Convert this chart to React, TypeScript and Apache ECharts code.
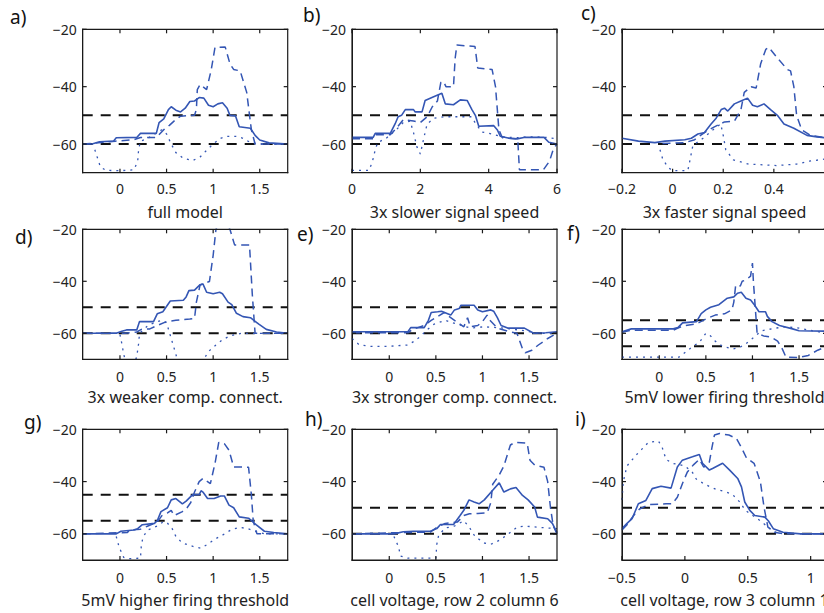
import React, { useEffect, useRef } from "react";
import * as echarts from "echarts";

// ---------- data (x, membrane voltage in mV) ----------
const aSolid = [[-0.4,-60],[-0.3,-60],[-0.22,-59.2],[-0.07,-59],[-0.04,-57.8],[0.18,-57.7],[0.22,-56.3],[0.39,-56.3],[0.42,-52.5],[0.47,-51.2],[0.52,-48],[0.55,-47],[0.6,-48.2],[0.65,-48.8],[0.7,-47.5],[0.75,-45.2],[0.8,-45],[0.85,-43.8],[0.9,-44],[0.95,-46.5],[1.0,-47],[1.05,-46],[1.1,-45.6],[1.15,-47.5],[1.18,-50],[1.24,-50.2],[1.28,-54],[1.4,-54.5],[1.45,-57],[1.5,-58.6],[1.6,-59.6],[1.8,-60]];
const aDashed = [[-0.4,-60],[-0.2,-59.5],[-0.05,-59],[0.15,-58.5],[0.22,-57.7],[0.39,-57.7],[0.47,-55],[0.53,-53.5],[0.58,-52],[0.65,-50.3],[0.8,-50],[0.82,-48],[0.83,-41],[0.86,-39.3],[0.93,-41],[0.98,-34],[1.02,-26.3],[1.13,-26.2],[1.18,-32],[1.22,-34],[1.29,-34.5],[1.36,-42],[1.41,-55],[1.45,-60],[1.8,-60]];
const aDotted = [[-0.27,-62],[-0.24,-65],[-0.21,-68],[-0.15,-69.2],[0.0,-69.3],[0.15,-69],[0.19,-66],[0.2,-62],[0.22,-59],[0.3,-58],[0.4,-56],[0.45,-55],[0.5,-56.5],[0.55,-60],[0.6,-63],[0.68,-65],[0.78,-65.8],[0.86,-64.5],[0.92,-62.5],[1.0,-60],[1.08,-58],[1.15,-57.3],[1.25,-57.3],[1.32,-58],[1.4,-59.5],[1.5,-60],[1.8,-60]];

const bSolid = [[0,-57.7],[0.62,-57.7],[0.68,-56.3],[1.12,-56.3],[1.26,-53],[1.35,-50.5],[1.45,-50],[1.56,-48],[1.8,-48],[1.85,-48.8],[2.05,-48.8],[2.14,-44.8],[2.39,-43.5],[2.63,-42.3],[2.73,-46],[2.97,-46.3],[3.17,-44.6],[3.37,-44.8],[3.51,-48],[3.61,-50],[3.71,-53.8],[4.15,-53.6],[4.25,-55],[4.34,-57.3],[4.6,-58],[4.83,-58.2],[5.03,-57.7],[5.62,-57.7],[5.76,-59.4],[6,-60]];
const bDashed = [[0,-58.2],[0.62,-58.2],[0.7,-56.8],[1.12,-56.8],[1.3,-54.5],[1.5,-51.5],[1.8,-52],[2.0,-52.5],[2.2,-50.5],[2.35,-47],[2.5,-45],[2.6,-38.5],[2.68,-38.2],[2.75,-40],[2.97,-40],[3.02,-30],[3.07,-25.5],[3.6,-26],[3.68,-33.5],[4.1,-34],[4.2,-40],[4.3,-55],[4.4,-57.8],[4.85,-58.2],[4.9,-69],[5.6,-69],[5.78,-66],[5.9,-61.5],[6,-60]];
const bDotted = [[0,-69.2],[0.5,-69.2],[0.6,-66],[0.68,-62],[0.75,-59.5],[1.0,-58],[1.3,-55],[1.5,-52.5],[1.7,-52],[1.8,-56],[1.9,-61],[2.0,-63.5],[2.1,-58],[2.2,-53],[2.4,-51],[2.7,-50.5],[3.0,-50.5],[3.5,-50.5],[3.6,-52.5],[3.8,-55.8],[4.1,-56.5],[4.4,-57.5],[4.8,-57.8],[5.2,-57.5],[5.6,-57.6],[5.9,-58],[6,-58.5]];

const cSolid = [[-0.2,-58],[-0.135,-59],[-0.07,-59.5],[-0.03,-59],[0.048,-58.5],[0.074,-58],[0.1,-56.5],[0.126,-56],[0.152,-53],[0.172,-51],[0.192,-48],[0.205,-47.5],[0.218,-48.5],[0.244,-46],[0.27,-45],[0.296,-44],[0.316,-46.5],[0.335,-47],[0.361,-46],[0.387,-48],[0.414,-50],[0.44,-53],[0.479,-54.5],[0.531,-57],[0.57,-57.5],[0.62,-58]];
const cDashed = [[-0.04,-59.8],[0.05,-59.5],[0.087,-58.5],[0.126,-56],[0.165,-54],[0.205,-52.3],[0.244,-52],[0.27,-48],[0.283,-42],[0.31,-40],[0.33,-40.5],[0.348,-32],[0.368,-27],[0.38,-26.3],[0.414,-30],[0.453,-34],[0.466,-34.5],[0.479,-40],[0.49,-50],[0.51,-55],[0.544,-57],[0.62,-58]];
const cDotted = [[-0.05,-62],[-0.04,-65],[-0.02,-68],[0.0,-69.3],[0.06,-69.3],[0.07,-65],[0.08,-60.5],[0.12,-58],[0.16,-55],[0.19,-53],[0.2,-57],[0.21,-62],[0.24,-65.5],[0.3,-67],[0.41,-67.5],[0.49,-67],[0.54,-66],[0.62,-65]];

const dSolid = [[-0.4,-60],[-0.04,-60],[0.02,-59.2],[0.07,-58.7],[0.18,-58.7],[0.21,-55.5],[0.36,-55.5],[0.4,-52.5],[0.46,-51.7],[0.54,-47.6],[0.68,-47.3],[0.71,-46],[0.74,-43.6],[0.8,-43.4],[0.86,-41.3],[0.89,-41],[0.93,-44.2],[1.0,-44.8],[1.07,-44.2],[1.1,-44.8],[1.16,-48],[1.2,-49],[1.25,-52.3],[1.32,-53.6],[1.4,-54],[1.49,-56.5],[1.57,-58.5],[1.68,-59.5],[1.8,-60]];
const dDashed = [[-0.4,-60],[0.05,-60],[0.18,-59.5],[0.23,-58.5],[0.32,-58.3],[0.4,-57],[0.5,-55.5],[0.6,-55],[0.75,-54.5],[0.8,-54.3],[0.82,-48],[0.86,-41.4],[0.96,-40.1],[1.0,-30],[1.03,-20],[1.08,-16],[1.14,-17],[1.18,-20],[1.23,-26],[1.39,-26],[1.42,-45],[1.45,-60],[1.8,-60]];
const dDotted = [[0.0,-60.5],[0.02,-64],[0.04,-68],[0.06,-71],[0.15,-72],[0.18,-69],[0.2,-64],[0.21,-60],[0.3,-57],[0.4,-55.5],[0.45,-55],[0.5,-56],[0.55,-62],[0.6,-68],[0.62,-71],[0.85,-73],[0.9,-70],[0.95,-67],[1.03,-64.5],[1.1,-62.5],[1.18,-61],[1.3,-60],[1.8,-60]];

const eSolid = [[-0.4,-59.4],[0.2,-59.4],[0.23,-57.8],[0.375,-57.8],[0.42,-55],[0.45,-52],[0.52,-51.7],[0.56,-51.5],[0.66,-53],[0.7,-51],[0.75,-50.5],[0.77,-49.2],[0.91,-49.2],[0.95,-51],[1.0,-51.7],[1.09,-51],[1.12,-51.5],[1.16,-54],[1.2,-57],[1.27,-58],[1.45,-58],[1.55,-60],[1.68,-59.8],[1.8,-59.4]];
const eDashed = [[-0.4,-59.8],[0.2,-59.8],[0.25,-58.5],[0.375,-57],[0.45,-55],[0.52,-53.5],[0.59,-52],[0.64,-53.5],[0.7,-55],[0.8,-57.5],[0.84,-54],[0.87,-57.5],[0.95,-57],[1.0,-55.5],[1.05,-53],[1.08,-55],[1.16,-58],[1.3,-59.5],[1.37,-60],[1.43,-66],[1.46,-67.5],[1.53,-66.5],[1.6,-64.5],[1.7,-62],[1.8,-60]];
const eDotted = [[-0.4,-62],[-0.32,-64.5],[-0.2,-65],[0.0,-65],[0.2,-64.5],[0.27,-63],[0.34,-61],[0.41,-58.5],[0.48,-56.5],[0.6,-55],[0.73,-56.5],[0.87,-58],[1.02,-57.5],[1.23,-58],[1.45,-59],[1.6,-60],[1.8,-60]];

const fSolid = [[-0.4,-59.4],[-0.3,-58.3],[0.15,-58.3],[0.2,-57.8],[0.25,-56],[0.4,-55.5],[0.45,-52.4],[0.5,-51],[0.55,-50],[0.64,-49],[0.73,-46.5],[0.8,-46],[0.84,-44.6],[0.88,-44.2],[0.93,-46.5],[0.98,-47.2],[1.02,-49],[1.07,-51.7],[1.14,-51.7],[1.16,-53.5],[1.21,-55.5],[1.29,-57],[1.43,-58.3],[1.5,-59],[1.8,-59.2]];
const fDashed = [[-0.4,-59.6],[-0.3,-58.8],[0.15,-58.8],[0.2,-58],[0.25,-57.2],[0.38,-56.5],[0.43,-55.8],[0.5,-54.5],[0.6,-53],[0.7,-52.5],[0.78,-51],[0.8,-48],[0.82,-41.5],[0.87,-41.8],[0.89,-40],[0.93,-39.5],[0.98,-38],[1.0,-33],[1.01,-40],[1.03,-50],[1.05,-60],[1.12,-61],[1.2,-61.5],[1.27,-63],[1.32,-66],[1.36,-69.2],[1.5,-69.3],[1.6,-68.5],[1.7,-66.5],[1.8,-65]];
const fDotted = [[-0.4,-69.2],[0.21,-69.2],[0.29,-67],[0.36,-65],[0.43,-63.5],[0.46,-62],[0.5,-60],[0.55,-61],[0.6,-63],[0.68,-65],[0.79,-66],[0.86,-65.5],[0.93,-64],[1.0,-62],[1.1,-59],[1.25,-58],[1.36,-57.5],[1.5,-58],[1.64,-59],[1.8,-60]];

const gSolid = [[-0.4,-60],[-0.04,-60],[0.01,-59],[0.15,-58.5],[0.19,-58],[0.24,-56.5],[0.37,-56],[0.4,-55],[0.44,-51.5],[0.51,-50],[0.55,-47],[0.6,-46.5],[0.67,-48.5],[0.71,-47.5],[0.78,-45],[0.85,-45],[0.87,-43.5],[0.89,-44],[0.94,-46.5],[1.01,-46.5],[1.08,-45.5],[1.12,-45.5],[1.17,-49],[1.22,-50],[1.28,-53.5],[1.38,-54],[1.46,-56.5],[1.55,-59],[1.65,-59.5],[1.8,-60]];
const gDashed = [[-0.4,-60],[0.08,-59.5],[0.1,-58.5],[0.22,-58.2],[0.3,-57],[0.37,-56],[0.4,-55.5],[0.45,-53],[0.51,-52],[0.55,-51],[0.58,-53],[0.67,-51.5],[0.72,-50],[0.76,-48],[0.8,-44],[0.85,-40],[0.89,-38.8],[0.97,-40.8],[1.02,-33],[1.06,-25],[1.12,-25.5],[1.17,-28],[1.22,-34.4],[1.38,-34.5],[1.41,-45],[1.43,-55],[1.47,-60],[1.8,-60]];
const gDotted = [[-0.04,-61],[-0.01,-65],[0.04,-69],[0.1,-69.5],[0.22,-69.3],[0.23,-64],[0.25,-61],[0.3,-58.5],[0.4,-57],[0.46,-55.5],[0.5,-55.5],[0.56,-58],[0.6,-61],[0.67,-63.5],[0.8,-65],[0.87,-65.5],[0.94,-64],[1.02,-62],[1.1,-60.5],[1.19,-58.5],[1.28,-57.5],[1.37,-58],[1.45,-59],[1.55,-60],[1.8,-60]];

const hSolid = [[-0.4,-60],[0.05,-60],[0.15,-59.2],[0.26,-59],[0.44,-59],[0.51,-58],[0.55,-56.4],[0.69,-56.4],[0.76,-53],[0.8,-51],[0.856,-47],[0.91,-47.8],[0.964,-48.5],[1.02,-47],[1.11,-43.3],[1.18,-40.5],[1.23,-44],[1.3,-42.8],[1.36,-42.3],[1.43,-45.3],[1.49,-47],[1.56,-49.7],[1.59,-53.6],[1.7,-54.2],[1.75,-56],[1.8,-59.5]];
const hDashed = [[-0.4,-60],[0.15,-59.5],[0.44,-59.3],[0.51,-57.5],[0.6,-56],[0.73,-55.5],[0.8,-53],[0.86,-52.3],[0.95,-52.2],[1.05,-52],[1.09,-48],[1.11,-41],[1.18,-37.5],[1.23,-34],[1.3,-26],[1.35,-25],[1.48,-25.3],[1.51,-31.8],[1.56,-33.7],[1.66,-34.5],[1.7,-40],[1.73,-50],[1.76,-57],[1.8,-60]];
const hDotted = [[0.05,-61],[0.1,-65],[0.12,-68.5],[0.2,-69.3],[0.5,-69.3],[0.51,-64],[0.53,-60.5],[0.6,-57.8],[0.7,-57],[0.8,-55],[0.86,-57.5],[0.92,-61],[1.02,-63.5],[1.09,-64],[1.18,-62.5],[1.28,-60],[1.37,-57.5],[1.45,-57],[1.6,-57.5],[1.8,-58]];

const iSolid = [[-0.5,-58],[-0.46,-56],[-0.42,-54.2],[-0.37,-48.5],[-0.31,-47.2],[-0.26,-42.7],[-0.19,-41.8],[-0.11,-42.5],[-0.06,-34.4],[-0.02,-31.8],[0.06,-30.5],[0.115,-29.6],[0.14,-33],[0.195,-35.6],[0.22,-35],[0.3,-33],[0.356,-35.6],[0.42,-38.8],[0.45,-42],[0.476,-47.8],[0.516,-51],[0.556,-53],[0.636,-53.6],[0.663,-55],[0.703,-58],[0.78,-59.4],[0.92,-60],[1.13,-60]];
const iDashed = [[-0.5,-58.5],[-0.46,-56.5],[-0.4,-52.5],[-0.36,-50.5],[-0.29,-48.8],[-0.15,-48.5],[-0.1,-48.5],[-0.06,-46],[-0.02,-40.8],[0.02,-36.3],[0.07,-33.5],[0.115,-31.5],[0.15,-34.5],[0.195,-32.5],[0.215,-27],[0.235,-22.2],[0.275,-21.6],[0.35,-22.2],[0.41,-23.5],[0.45,-27],[0.49,-31],[0.55,-33],[0.6,-40],[0.63,-50],[0.66,-57.4],[0.72,-59.5],[0.8,-60],[1.13,-60]];
const iDotted = [[-0.5,-47],[-0.49,-40],[-0.46,-34],[-0.39,-30],[-0.34,-27.5],[-0.29,-25],[-0.21,-24.5],[-0.18,-27],[-0.15,-31.5],[-0.1,-33],[0.0,-34],[0.06,-36.5],[0.09,-39],[0.14,-40.5],[0.2,-42],[0.25,-43],[0.33,-44],[0.38,-45],[0.44,-48],[0.48,-51],[0.54,-53],[0.6,-55],[0.65,-57],[0.7,-59],[0.76,-60]];

// thresholds (mV) per panel
const thrA = [-50, -60];
const thrB = [-50, -60];
const thrC = [-50, -60];
const thrD = [-50, -60];
const thrE = [-50, -60];
const thrF = [-55, -65];
const thrG = [-45, -55];
const thrH = [-50, -60];
const thrI = [-50, -60];

const yTicks = [-60, -40, -20];
const xTicksStd = [0, 0.5, 1, 1.5];
const xTicksB = [0, 2, 4, 6];
const xTicksC = [-0.2, 0, 0.2, 0.4];
const xTicksI = [-0.5, 0, 0.5, 1];

const Y_MIN = -70;
const Y_MAX = -20;

const panels = [
  { label: "a)", title: "full model", xMin: -0.4, xMax: 1.8, xt: xTicksStd, thr: thrA, s: aSolid, d: aDashed, o: aDotted, lx: 10, ly: 17 },
  { label: "b)", title: "3x slower signal speed", xMin: 0, xMax: 6, xt: xTicksB, thr: thrB, s: bSolid, d: bDashed, o: bDotted, lx: 303, ly: 15 },
  { label: "c)", title: "3x faster signal speed", xMin: -0.2, xMax: 0.61, xt: xTicksC, thr: thrC, s: cSolid, d: cDashed, o: cDotted, lx: 581, ly: 13 },
  { label: "d)", title: "3x weaker comp. connect.", xMin: -0.4, xMax: 1.8, xt: xTicksStd, thr: thrD, s: dSolid, d: dDashed, o: dDotted, lx: 15, ly: 237 },
  { label: "e)", title: "3x stronger comp. connect.", xMin: -0.4, xMax: 1.8, xt: xTicksStd, thr: thrE, s: eSolid, d: eDashed, o: eDotted, lx: 297, ly: 234 },
  { label: "f)", title: "5mV lower firing threshold", xMin: -0.4, xMax: 1.8, xt: xTicksStd, thr: thrF, s: fSolid, d: fDashed, o: fDotted, lx: 567, ly: 233 },
  { label: "g)", title: "5mV higher firing threshold", xMin: -0.4, xMax: 1.8, xt: xTicksStd, thr: thrG, s: gSolid, d: gDashed, o: gDotted, lx: 24, ly: 422 },
  { label: "h)", title: "cell voltage, row 2 column 6", xMin: -0.4, xMax: 1.8, xt: xTicksStd, thr: thrH, s: hSolid, d: hDashed, o: hDotted, lx: 305, ly: 419 },
  { label: "i)", title: "cell voltage, row 3 column 1", xMin: -0.5, xMax: 1.13, xt: xTicksI, thr: thrI, s: iSolid, d: iDashed, o: iDotted, lx: 575, ly: 419 },
];

const COL_LEFT = [82.7, 352, 622];
const COL_W = 205;
const ROW_TOP = [29.3, 229.3, 429.3];
const ROW_H = [143.4, 130, 130.7];
const ROW_TITLE_Y = [212, 397, 600];
const ROW_LABEL_MARGIN = [9, 10, 10];
const TICK_PX = 4;
const FRAME_W = 1.2;

const BLUE = "#3456b4";
const FRAME = "#1a1a1a";
const FONT = "'Noto Sans', 'DejaVu Sans', sans-serif";

const fmt = (v: number) => {
  const s = String(Math.round(v * 1000) / 1000);
  return s.startsWith("-") ? "\u2212" + s.slice(1) : s;
};

function buildOption() {
  const grid: any[] = [];
  const xAxis: any[] = [];
  const yAxis: any[] = [];
  const series: any[] = [];
  const graphic: any[] = [];

  panels.forEach((p, i) => {
    const r = Math.floor(i / 3);
    const c = i % 3;
    grid.push({ left: COL_LEFT[c], top: ROW_TOP[r], width: COL_W, height: ROW_H[r], containLabel: false, outerBoundsMode: "none" });
    xAxis.push({
      gridIndex: i, type: "value", min: p.xMin, max: p.xMax, position: "bottom",
      axisLine: { show: true, onZero: false, lineStyle: { color: FRAME, width: 1 } }, splitLine: { show: false }, axisTick: { show: false },
      axisLabel: { show: true, customValues: p.xt, formatter: fmt, color: "#222", fontSize: 14, fontFamily: FONT, margin: ROW_LABEL_MARGIN[r] },
    });
    yAxis.push({
      gridIndex: i, type: "value", min: Y_MIN, max: Y_MAX, position: "left",
      axisLine: { show: true, onZero: false, lineStyle: { color: FRAME, width: 1 } }, splitLine: { show: false }, axisTick: { show: false },
      axisLabel: { show: true, customValues: yTicks, formatter: fmt, color: "#222", fontSize: 14, fontFamily: FONT, margin: 6 },
    });
    p.thr.forEach((t) => {
      series.push({
        type: "line", xAxisIndex: i, yAxisIndex: i, silent: true, symbol: "none", z: 2,
        data: [[p.xMin, t], [p.xMax, t]],
        lineStyle: { color: "#111", width: 2, type: [10, 8] },
      });
    });
    series.push({
      type: "line", xAxisIndex: i, yAxisIndex: i, silent: true, symbol: "none", z: 3,
      data: p.o, lineStyle: { color: BLUE, width: 1.3, type: [2, 5] },
    });
    series.push({
      type: "line", xAxisIndex: i, yAxisIndex: i, silent: true, symbol: "none", z: 3,
      data: p.d, lineStyle: { color: BLUE, width: 1.5, type: [8, 5] },
    });
    series.push({
      type: "line", xAxisIndex: i, yAxisIndex: i, silent: true, symbol: "none", z: 4,
      data: p.s, lineStyle: { color: BLUE, width: 1.6, type: "solid" },
    });
    // axes box and inward ticks as thin filled bars, positioned with api.coord
    series.push({
      type: "custom", xAxisIndex: i, yAxisIndex: i, silent: true, z: 6, clip: false,
      data: [[p.xMin, Y_MIN]],
      renderItem: (_params: any, api: any) => {
        const tl = api.coord([p.xMin, Y_MAX]);
        const br = api.coord([p.xMax, Y_MIN]);
        const x0 = tl[0], y0 = tl[1], x1 = br[0], y1 = br[1];
        const h = FRAME_W / 2;
        const st = { fill: FRAME };
        const bar = (x: number, y: number, w: number, hh: number) => ({ type: "rect", shape: { x, y, width: w, height: hh }, style: st });
        const children: any[] = [
          bar(x0 - h, y0 - h, x1 - x0 + FRAME_W, FRAME_W),
          bar(x0 - h, y1 - h, x1 - x0 + FRAME_W, FRAME_W),
          bar(x0 - h, y0 - h, FRAME_W, y1 - y0 + FRAME_W),
          bar(x1 - h, y0 - h, FRAME_W, y1 - y0 + FRAME_W),
        ];
        p.xt.forEach((v) => {
          const x = api.coord([v, Y_MIN])[0];
          children.push(bar(x - h, y1 - TICK_PX, FRAME_W, TICK_PX));
          children.push(bar(x - h, y0, FRAME_W, TICK_PX));
        });
        yTicks.forEach((v) => {
          const y = api.coord([p.xMin, v])[1];
          children.push(bar(x0, y - h, TICK_PX, FRAME_W));
          children.push(bar(x1 - TICK_PX, y - h, TICK_PX, FRAME_W));
        });
        return { type: "group", children };
      },
    });
    graphic.push({
      type: "text", x: p.lx, y: p.ly, z: 10, silent: true,
      style: { text: p.label, font: `19px ${FONT}`, fill: "#111", align: "left", verticalAlign: "middle", textAlign: "left", textVerticalAlign: "middle" },
    });
    graphic.push({
      type: "text", x: COL_LEFT[c] + COL_W / 2, y: ROW_TITLE_Y[r], z: 10, silent: true,
      style: { text: p.title, font: `16px ${FONT}`, fill: "#222", align: "center", verticalAlign: "middle", textAlign: "center", textVerticalAlign: "middle" },
    });
  });

  return { animation: false, grid, xAxis, yAxis, series, graphic };
}

export default function App() {
  const ref = useRef<HTMLDivElement>(null);
  useEffect(() => {
    if (!ref.current) return;
    const chart = echarts.init(ref.current, undefined, { renderer: "svg" });
    chart.setOption(buildOption() as any);
    return () => chart.dispose();
  }, []);
  return <div ref={ref} style={{ position: "fixed", left: 0, top: 0, width: 824, height: 613, background: "#fff" }} />;
}
